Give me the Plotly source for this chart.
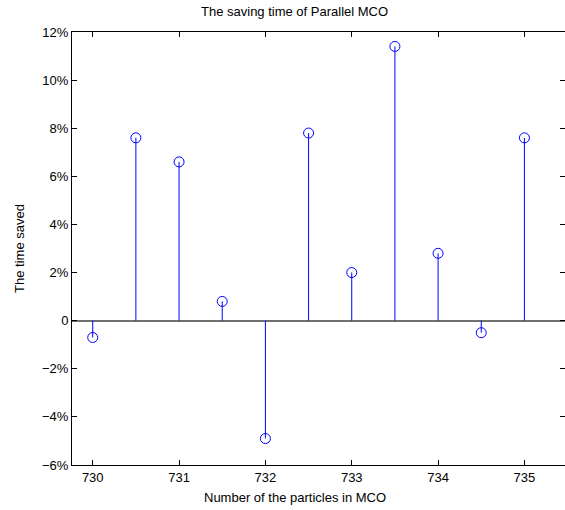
import plotly.graph_objects as go

particles = [730, 730.5, 731, 731.5, 732, 732.5, 733, 733.5, 734, 734.5, 735]
time_saved = [-0.7, 7.6, 6.6, 0.8, -4.9, 7.8, 2.0, 11.4, 2.8, -0.5, 7.6]
y_ticks = [-6, -4, -2, 0, 2, 4, 6, 8, 10, 12]
y_tick_labels = ["\u22126%", "\u22124%", "\u22122%", "0", "2%", "4%", "6%", "8%", "10%", "12%"]
x_ticks = [730, 731, 732, 733, 734, 735]

stem_x, stem_y = [], []
for xv, yv in zip(particles, time_saved):
    stem_x += [xv, xv, None]
    stem_y += [0, yv, None]

fig = go.Figure()
fig.add_trace(go.Scatter(x=stem_x, y=stem_y, mode="lines",
                         line=dict(color="#0000ff", width=1), hoverinfo="skip", showlegend=False))
fig.add_trace(go.Scatter(x=particles, y=time_saved, mode="markers",
                         marker=dict(symbol="circle-open", size=10, color="#0000ff",
                                     line=dict(width=1, color="#0000ff")),
                         showlegend=False))

font = "Liberation Sans, Arial, sans-serif"
f13 = dict(family=font, size=13, color="black")
fig.update_layout(
    width=565, height=510,
    margin=dict(l=72, r=0, t=32, b=45, autoexpand=False),
    paper_bgcolor="white", plot_bgcolor="white",
    font=f13,
    xaxis=dict(range=[729.76, 735.47], tickvals=x_ticks, ticks="inside", ticklen=5,
               tickcolor="black", showline=True, linecolor="black", linewidth=1, mirror="ticks",
               showgrid=False, zeroline=False, automargin=False, tickfont=f13),
    yaxis=dict(range=[-6, 12], tickvals=y_ticks, ticktext=y_tick_labels, ticks="inside",
               ticklen=5, tickcolor="black", showline=True, linecolor="black", linewidth=1,
               mirror="ticks", showgrid=False, zeroline=True, zerolinecolor="#707070",
               zerolinewidth=2, automargin=False, tickfont=f13,
               title=dict(text="The time saved", standoff=14, font=f13)),
    annotations=[
        dict(text="The saving time of Parallel MCO", xref="paper", yref="paper",
             x=0.452, y=1.047, xanchor="center", yanchor="middle", showarrow=False, font=f13),
        dict(text="Number of the particles in MCO", xref="paper", yref="paper",
             x=0.452, y=-0.076, xanchor="center", yanchor="middle", showarrow=False, font=f13),
    ],
)
fig.write_html("out.html", config={"displayModeBar": False},
               post_script="document.body.style.margin='0';document.body.style.overflow='hidden';")
